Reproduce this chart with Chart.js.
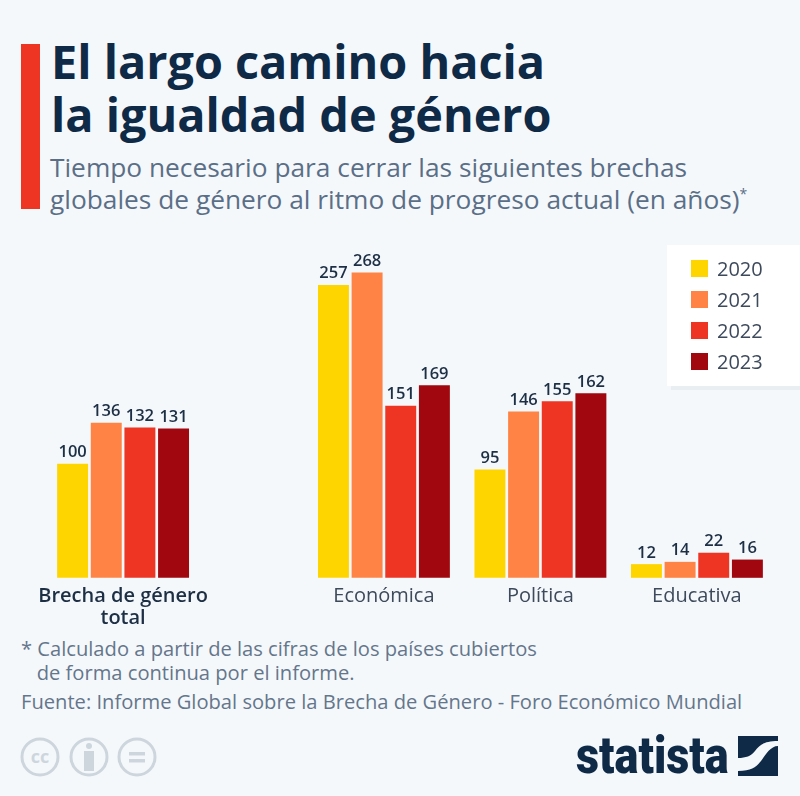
<!DOCTYPE html>
<html lang="es">
<head>
<meta charset="utf-8">
<title>El largo camino hacia la igualdad de género</title>
<script src="https://cdn.jsdelivr.net/npm/chart.js@4/dist/chart.umd.min.js"></script>
<style>
  html, body { margin: 0; padding: 0; }
  body { width: 800px; height: 796px; background: #f5f8fb; position: relative; overflow: hidden;
         font-family: "Open Sans", sans-serif; }
  body > * { position: absolute; }
  #bar { left: 21px; top: 44px; width: 19px; height: 165px; background: #ee3524; }
  h1 { left: 51px; top: 35px; margin: 0; font-size: 46.8px; line-height: 53px; font-weight: 700; color: #0f2a47; white-space: nowrap; }
  h2 { left: 50px; top: 151px; margin: 0; font-size: 26.3px; line-height: 32px; font-weight: 400; color: #5a6f87; white-space: nowrap; }
  h2 sup { font-size: 14px; line-height: 0; }
  #chartWrap { left: 0; top: 236px; width: 800px; height: 393px; }
  #legend { left: 667px; top: 245px; width: 133px; height: 141px; background: #fff; box-shadow: 4px 4px 0 #e9eef3; }
  .key { position: absolute; left: 24px; font-size: 20px; line-height: 24px; color: #3d4a5c; padding-left: 26px; }
  .key i { position: absolute; left: 0; top: 3px; width: 17px; height: 17px; }
  .note { font-size: 20.15px; line-height: 24px; color: #64768b; white-space: nowrap; }
  #note1 { left: 21px; top: 636px; }
  #note2 { left: 21px; top: 689px; }
  #logo { left: 576px; top: 728px; font-family: "Roboto", sans-serif; font-weight: 900; font-size: 52px; line-height: 56px; color: #0f2a47; transform-origin: 0 0; transform: scaleX(.865); }
</style>
</head>
<body>
<div id="bar"></div>
<h1>El largo camino hacia<br>la igualdad de género</h1>
<h2>Tiempo necesario para cerrar las siguientes brechas<br>globales de género al ritmo de progreso actual (en años)<sup>*</sup></h2>
<div id="chartWrap"><canvas id="chart" width="800" height="393"></canvas></div>
<div id="legend"></div>
<div class="note" id="note1">* Calculado a partir de las cifras de los países cubiertos<br>&nbsp;&nbsp;&nbsp;de forma continua por el informe.</div>
<div class="note" id="note2">Fuente: Informe Global sobre la Brecha de Género - Foro Económico Mundial</div>
<svg style="left:20px;top:736px" width="140" height="42" viewBox="0 0 140 42" fill="none" stroke="#cdd6dd" stroke-width="3">
  <circle cx="20" cy="21" r="18"/><circle cx="69" cy="21" r="18"/><circle cx="117" cy="21" r="18"/>
  <text x="20" y="27" text-anchor="middle" font-family="Open Sans" font-weight="700" font-size="18" fill="#cdd6dd" stroke="none">cc</text>
  <circle cx="69" cy="10" r="3" fill="#cdd6dd" stroke="none"/>
  <rect x="64" y="15" width="10" height="20" fill="#cdd6dd" stroke="none"/>
  <rect x="109" y="16" width="16" height="3.5" fill="#cdd6dd" stroke="none"/>
  <rect x="109" y="23" width="16" height="3.5" fill="#cdd6dd" stroke="none"/>
</svg>
<div id="logo">statista</div>
<svg style="left:738px;top:736px" width="40" height="40" viewBox="0 0 40 40">
  <path d="M0 0H40V5C26 5 22 9 17 15C13 20 8 22 0 22Z" fill="#0f2a47"/>
  <path d="M40 10V40H0V35C14 35 18 31 23 25C27 20 32 10 40 10Z" fill="#0f2a47"/>
</svg>
<script>
const categories = [['Brecha de género', 'total'], 'Económica', 'Política', 'Educativa'];
const years = ['2020', '2021', '2022', '2023'];
const values2020 = [100, 257, 95, 12];
const values2021 = [136, 268, 146, 14];
const values2022 = [132, 151, 155, 22];
const values2023 = [131, 169, 162, 16];
const colors = ['#ffd500', '#ff8345', '#ee3524', '#a0070f'];

// the first group stands apart: it sits 5 slots before the next one, the others 3
const slots = [0, 5, 8, 11];
const slotCount = 12;

function spread(list, empty) {
  const out = new Array(slotCount).fill(empty);
  slots.forEach((s, i) => { out[s] = list[i]; });
  return out;
}

const valueLabels = {
  id: 'valueLabels',
  afterDatasetsDraw(chart) {
    const ctx = chart.ctx;
    ctx.save();
    ctx.font = '600 16.5px "Open Sans"';
    ctx.fillStyle = '#1d2f45';
    ctx.textAlign = 'center';
    ctx.textBaseline = 'bottom';
    chart.data.datasets.forEach((ds, d) => {
      chart.getDatasetMeta(d).data.forEach((bar, i) => {
        if (ds.data[i] == null) return;
        ctx.fillText(ds.data[i], bar.x, bar.y - 3);
      });
    });
    ctx.restore();
  },
};

const series = [values2020, values2021, values2022, values2023];

new Chart(document.getElementById('chart').getContext('2d'), {
  type: 'bar',
  data: {
    labels: spread(categories, ''),
    datasets: years.map((y, i) => ({
      label: y,
      data: spread(series[i], null),
      backgroundColor: colors[i],
      barPercentage: 0.92,
      categoryPercentage: 2.58,
      clip: false,
    })),
  },
  options: {
    responsive: false,
    animation: false,
    layout: { padding: { left: 97, right: 77, top: 0, bottom: 0 } },
    plugins: { legend: { display: false }, tooltip: { enabled: false } },
    scales: {
      x: {
        grid: { display: false },
        border: { display: false },
        ticks: {
          autoSkip: false,
          maxRotation: 0,
          minRotation: 0,
          padding: 0,
          color: (c) => (c.index === 0 ? '#1d2f45' : '#3d4a5c'),
          font: (c) => ({ family: 'Open Sans', size: 20, weight: c.index === 0 ? '600' : '400', lineHeight: 1.08 }),
        },
      },
      y: { display: false, min: 0, max: 300 },
    },
  },
  plugins: [valueLabels],
});

const legendBox = document.getElementById('legend');
years.forEach((y, i) => {
  const key = document.createElement('div');
  key.className = 'key';
  key.style.top = (12 + i * 31) + 'px';
  key.innerHTML = '<i style="background:' + colors[i] + '"></i>' + y;
  legendBox.appendChild(key);
});
</script>
</body>
</html>
